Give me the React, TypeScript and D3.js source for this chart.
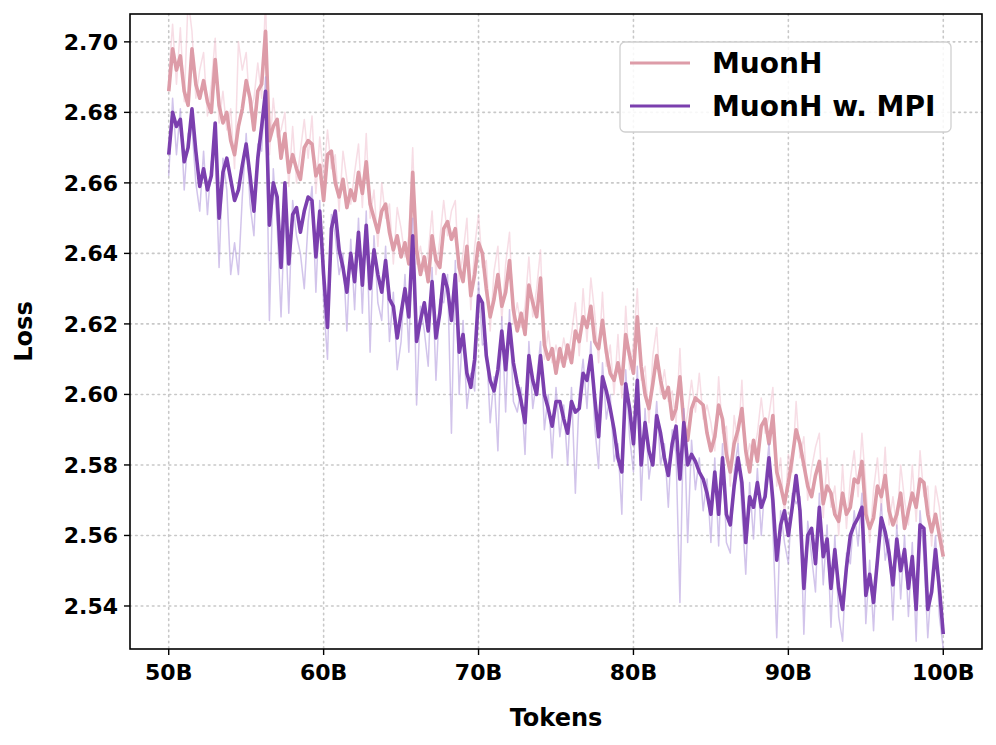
import React from 'react';
import * as d3 from 'd3';

// tokens seen, in billions (one point every 0.25B)
const tokens = d3.range(201).map(i => 50 + i * 0.25);

// smoothed loss, MuonH
const muonH = [
  2.686, 2.698, 2.692, 2.696, 2.686, 2.682, 2.698, 2.688, 2.684, 2.689,
  2.683, 2.680, 2.695, 2.682, 2.677, 2.680, 2.672, 2.668, 2.676, 2.681,
  2.689, 2.684, 2.675, 2.686, 2.688, 2.703, 2.672, 2.676, 2.678, 2.667,
  2.674, 2.663, 2.668, 2.664, 2.661, 2.670, 2.672, 2.671, 2.662, 2.665,
  2.655, 2.668, 2.669, 2.660, 2.656, 2.661, 2.653, 2.658, 2.655, 2.663,
  2.657, 2.666, 2.654, 2.650, 2.646, 2.652, 2.654, 2.646, 2.641, 2.645,
  2.639, 2.643, 2.637, 2.663, 2.641, 2.634, 2.639, 2.632, 2.645, 2.638,
  2.636, 2.647, 2.649, 2.644, 2.647, 2.636, 2.632, 2.642, 2.628, 2.634,
  2.643, 2.640, 2.630, 2.622, 2.627, 2.634, 2.625, 2.629, 2.638, 2.624,
  2.618, 2.623, 2.617, 2.631, 2.626, 2.622, 2.633, 2.614, 2.610, 2.613,
  2.606, 2.613, 2.608, 2.614, 2.609, 2.618, 2.615, 2.622, 2.619, 2.625,
  2.615, 2.613, 2.621, 2.612, 2.606, 2.604, 2.609, 2.603, 2.617, 2.611,
  2.606, 2.622, 2.608, 2.600, 2.596, 2.603, 2.611, 2.604, 2.599, 2.602,
  2.593, 2.596, 2.605, 2.592, 2.587, 2.596, 2.599, 2.598, 2.597, 2.589,
  2.584, 2.588, 2.597, 2.593, 2.583, 2.578, 2.586, 2.590, 2.596, 2.584,
  2.578, 2.587, 2.581, 2.591, 2.593, 2.586, 2.594, 2.578, 2.574, 2.569,
  2.575, 2.582, 2.590, 2.586, 2.580, 2.574, 2.571, 2.577, 2.581, 2.569,
  2.574, 2.572, 2.566, 2.564, 2.572, 2.566, 2.568, 2.576, 2.575, 2.581,
  2.566, 2.562, 2.565, 2.574, 2.571, 2.577, 2.567, 2.563, 2.566, 2.572,
  2.562, 2.567, 2.572, 2.568, 2.576, 2.575, 2.566, 2.561, 2.566, 2.560,
  2.554,
];

// raw (unsmoothed) loss, MuonH
const muonHRaw = [
  2.690, 2.705, 2.688, 2.704, 2.683, 2.712, 2.703, 2.684, 2.692, 2.697,
  2.679, 2.688, 2.701, 2.677, 2.686, 2.675, 2.681, 2.664, 2.700, 2.692,
  2.697, 2.680, 2.684, 2.694, 2.684, 2.712, 2.668, 2.684, 2.673, 2.675,
  2.680, 2.659, 2.676, 2.660, 2.669, 2.678, 2.667, 2.679, 2.657, 2.673,
  2.662, 2.675, 2.664, 2.668, 2.652, 2.669, 2.661, 2.654, 2.663, 2.671,
  2.653, 2.674, 2.650, 2.658, 2.642, 2.660, 2.650, 2.654, 2.637, 2.653,
  2.647, 2.639, 2.645, 2.670, 2.637, 2.642, 2.635, 2.640, 2.652, 2.634,
  2.644, 2.655, 2.645, 2.652, 2.655, 2.632, 2.640, 2.650, 2.624, 2.642,
  2.651, 2.636, 2.638, 2.618, 2.635, 2.642, 2.621, 2.637, 2.646, 2.620,
  2.626, 2.619, 2.625, 2.639, 2.622, 2.630, 2.641, 2.610, 2.618, 2.609,
  2.614, 2.609, 2.616, 2.610, 2.617, 2.626, 2.611, 2.630, 2.615, 2.633,
  2.623, 2.609, 2.629, 2.608, 2.614, 2.600, 2.617, 2.599, 2.625, 2.607,
  2.614, 2.630, 2.604, 2.608, 2.592, 2.611, 2.619, 2.600, 2.607, 2.598,
  2.601, 2.592, 2.613, 2.588, 2.595, 2.604, 2.595, 2.606, 2.593, 2.597,
  2.592, 2.584, 2.605, 2.589, 2.591, 2.574, 2.594, 2.586, 2.604, 2.580,
  2.586, 2.583, 2.589, 2.599, 2.589, 2.594, 2.602, 2.574, 2.582, 2.565,
  2.583, 2.578, 2.598, 2.582, 2.588, 2.570, 2.579, 2.585, 2.589, 2.565,
  2.582, 2.568, 2.574, 2.560, 2.580, 2.562, 2.576, 2.584, 2.571, 2.589,
  2.574, 2.558, 2.573, 2.582, 2.567, 2.585, 2.563, 2.571, 2.562, 2.580,
  2.570, 2.563, 2.580, 2.564, 2.584, 2.571, 2.574, 2.557, 2.574, 2.568,
  2.556,
];

// smoothed loss, MuonH w. MPI
const muonHMpi = [
  2.668, 2.680, 2.676, 2.678, 2.666, 2.670, 2.681, 2.669, 2.659, 2.664,
  2.658, 2.662, 2.677, 2.650, 2.663, 2.667, 2.661, 2.655, 2.658, 2.665,
  2.671, 2.662, 2.652, 2.667, 2.676, 2.686, 2.648, 2.660, 2.656, 2.636,
  2.660, 2.637, 2.651, 2.653, 2.646, 2.652, 2.656, 2.655, 2.639, 2.652,
  2.634, 2.619, 2.647, 2.652, 2.641, 2.636, 2.629, 2.640, 2.632, 2.646,
  2.631, 2.648, 2.630, 2.641, 2.634, 2.629, 2.638, 2.627, 2.625, 2.616,
  2.623, 2.630, 2.622, 2.645, 2.615, 2.621, 2.626, 2.618, 2.632, 2.616,
  2.623, 2.634, 2.630, 2.621, 2.634, 2.612, 2.617, 2.606, 2.602, 2.610,
  2.628, 2.626, 2.611, 2.604, 2.601, 2.607, 2.618, 2.607, 2.620, 2.609,
  2.603, 2.598, 2.592, 2.611, 2.604, 2.600, 2.611, 2.600, 2.596, 2.591,
  2.598, 2.598, 2.593, 2.589, 2.598, 2.595, 2.596, 2.606, 2.604, 2.611,
  2.599, 2.588, 2.605, 2.601, 2.596, 2.590, 2.582, 2.578, 2.603, 2.596,
  2.586, 2.604, 2.580, 2.592, 2.584, 2.580, 2.594, 2.589, 2.582, 2.577,
  2.586, 2.591, 2.576, 2.592, 2.580, 2.583, 2.581, 2.578, 2.576, 2.572,
  2.566, 2.578, 2.566, 2.582, 2.566, 2.563, 2.574, 2.582, 2.575, 2.558,
  2.571, 2.568, 2.575, 2.568, 2.571, 2.582, 2.570, 2.553, 2.563, 2.567,
  2.560, 2.568, 2.577, 2.567, 2.545, 2.560, 2.562, 2.552, 2.568, 2.554,
  2.559, 2.545, 2.556, 2.545, 2.539, 2.551, 2.560, 2.563, 2.565, 2.568,
  2.543, 2.549, 2.541, 2.553, 2.565, 2.561, 2.555, 2.546, 2.559, 2.550,
  2.556, 2.545, 2.554, 2.539, 2.563, 2.562, 2.539, 2.544, 2.556, 2.545,
  2.532,
];

// raw (unsmoothed) loss, MuonH w. MPI
const muonHMpiRaw = [
  2.662, 2.684, 2.668, 2.681, 2.658, 2.674, 2.676, 2.660, 2.652, 2.669,
  2.651, 2.666, 2.670, 2.636, 2.667, 2.658, 2.634, 2.643, 2.634, 2.656,
  2.674, 2.654, 2.645, 2.671, 2.669, 2.690, 2.621, 2.664, 2.648, 2.622,
  2.652, 2.623, 2.655, 2.645, 2.640, 2.630, 2.649, 2.659, 2.629, 2.655,
  2.626, 2.610, 2.651, 2.645, 2.634, 2.640, 2.618, 2.644, 2.624, 2.650,
  2.623, 2.652, 2.612, 2.645, 2.626, 2.621, 2.642, 2.615, 2.629, 2.607,
  2.615, 2.634, 2.612, 2.650, 2.597, 2.625, 2.618, 2.608, 2.636, 2.604,
  2.627, 2.626, 2.634, 2.589, 2.638, 2.600, 2.621, 2.596, 2.606, 2.601,
  2.632, 2.614, 2.615, 2.592, 2.605, 2.584, 2.622, 2.595, 2.624, 2.598,
  2.595, 2.602, 2.583, 2.615, 2.596, 2.604, 2.615, 2.590, 2.600, 2.582,
  2.602, 2.588, 2.597, 2.580, 2.602, 2.572, 2.600, 2.610, 2.596, 2.615,
  2.591, 2.579, 2.609, 2.593, 2.600, 2.581, 2.586, 2.566, 2.607, 2.588,
  2.578, 2.608, 2.570, 2.596, 2.576, 2.584, 2.598, 2.580, 2.586, 2.568,
  2.590, 2.583, 2.541, 2.596, 2.558, 2.587, 2.573, 2.582, 2.567, 2.576,
  2.558, 2.582, 2.557, 2.586, 2.558, 2.555, 2.578, 2.586, 2.567, 2.549,
  2.575, 2.559, 2.579, 2.560, 2.575, 2.586, 2.562, 2.531, 2.567, 2.558,
  2.552, 2.572, 2.569, 2.571, 2.532, 2.564, 2.554, 2.544, 2.572, 2.546,
  2.563, 2.534, 2.560, 2.537, 2.530, 2.555, 2.552, 2.567, 2.557, 2.572,
  2.535, 2.553, 2.533, 2.557, 2.569, 2.553, 2.559, 2.536, 2.563, 2.542,
  2.560, 2.537, 2.558, 2.530, 2.567, 2.554, 2.531, 2.548, 2.560, 2.537,
  2.528,
];

const xTicks = [50, 60, 70, 80, 90, 100];
const yTicks = [2.54, 2.56, 2.58, 2.60, 2.62, 2.64, 2.66, 2.68, 2.70];

const seriesNames = ['MuonH', 'MuonH w. MPI'];
const seriesColors = ['#dd9ca8', '#7b3fae'];
const rawColors = ['#f0bccb', '#a58ad8'];

const W = 996;
const H = 745;
const plot = { left: 130, right: 982, top: 14, bottom: 649 };
const FONT = '"DejaVu Sans", sans-serif';

const App: React.FC = () => {
  const x = d3.scaleLinear().domain([47.5, 102.5]).range([plot.left, plot.right]);
  const y = d3.scaleLinear().domain([2.5278, 2.7079]).range([plot.bottom, plot.top]);

  const line = (vals: number[]) =>
    d3.line<number>()
      .x((_, i) => x(tokens[i]))
      .y(d => y(d))(vals) || '';

  const smooth = [muonH, muonHMpi];
  const raw = [muonHRaw, muonHMpiRaw];

  return (
    <svg width={W} height={H} style={{ position: 'absolute', left: 0, top: 0, background: '#fff' }}
      fontFamily={FONT} fontWeight="bold">
      <defs>
        <clipPath id="plot-clip">
          <rect x={plot.left} y={plot.top} width={plot.right - plot.left} height={plot.bottom - plot.top} />
        </clipPath>
      </defs>

      {/* grid */}
      <g stroke="#c8c8c8" strokeWidth={1.6} strokeDasharray="1.6 4" strokeLinecap="round">
        {xTicks.map(t => (
          <line key={'gx' + t} x1={x(t)} x2={x(t)} y1={plot.top} y2={plot.bottom} />
        ))}
        {yTicks.map(t => (
          <line key={'gy' + t} x1={plot.left} x2={plot.right} y1={y(t)} y2={y(t)} />
        ))}
      </g>

      {/* curves: raw trace underneath each smoothed one */}
      <g clipPath="url(#plot-clip)" fill="none" strokeLinejoin="round">
        {[0, 1].map(k => (
          <g key={'s' + k}>
            <path d={line(raw[k])} stroke={rawColors[k]} strokeWidth={1.5} strokeOpacity={0.5} />
            <path d={line(smooth[k])} stroke={seriesColors[k]} strokeWidth={3.6} />
          </g>
        ))}
      </g>

      {/* frame */}
      <rect x={plot.left} y={plot.top} width={plot.right - plot.left} height={plot.bottom - plot.top}
        fill="none" stroke="#000" strokeWidth={1.6} />

      {/* x axis */}
      {xTicks.map(t => (
        <g key={'xt' + t} transform={`translate(${x(t)},${plot.bottom})`}>
          <line y2={6} stroke="#000" strokeWidth={1.4} />
          <text y={31} textAnchor="middle" fontSize={22}>{t}B</text>
        </g>
      ))}
      <text x={(plot.left + plot.right) / 2} y={726} textAnchor="middle" fontSize={24}>Tokens</text>

      {/* y axis */}
      {yTicks.map(t => (
        <g key={'yt' + t} transform={`translate(${plot.left},${y(t)})`}>
          <line x2={-6} stroke="#000" strokeWidth={1.4} />
          <text x={-12} dy="0.36em" textAnchor="end" fontSize={22}>{t.toFixed(2)}</text>
        </g>
      ))}
      <text transform={`translate(32,${(plot.top + plot.bottom) / 2}) rotate(-90)`} textAnchor="middle"
        fontSize={24}>Loss</text>

      {/* legend */}
      <g transform="translate(620,42)">
        <rect width={331} height={90} rx={5} fill="#fff" fillOpacity={0.85} stroke="#d0d0d0" strokeWidth={1.3} />
        {seriesNames.map((name, i) => (
          <g key={name} transform={`translate(0,${21 + i * 43})`}>
            <line x1={10} x2={70} stroke={seriesColors[i]} strokeWidth={3} />
            <text x={92} dy="0.36em" fontSize={28}>{name}</text>
          </g>
        ))}
      </g>
    </svg>
  );
};

export default App;
